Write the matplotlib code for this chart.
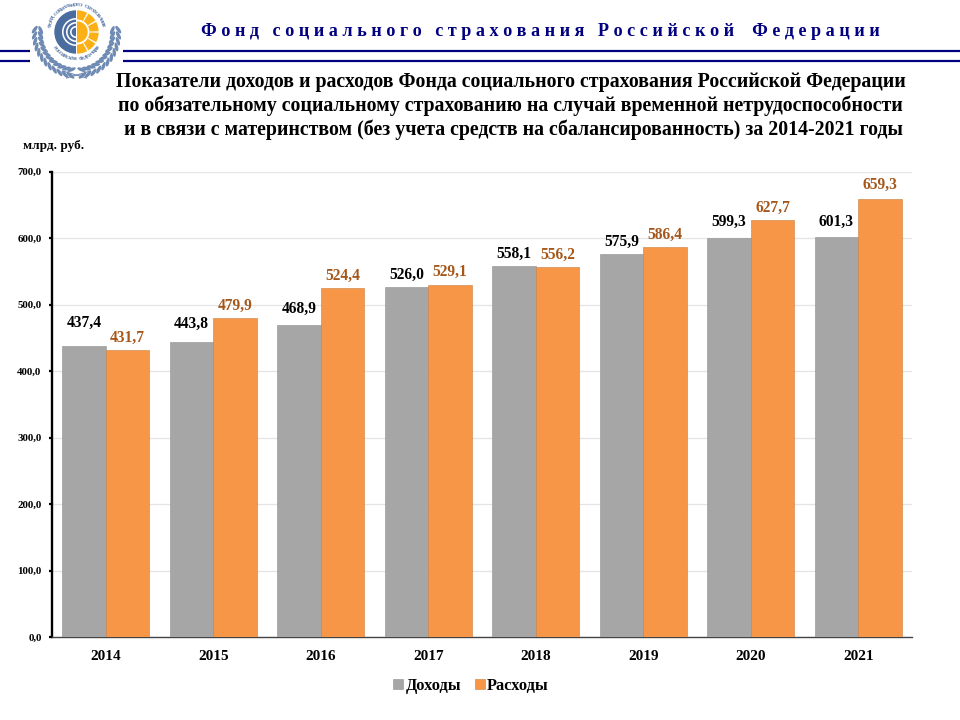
import numpy as np
import matplotlib
matplotlib.use("Agg")
import matplotlib.pyplot as plt
from matplotlib.patches import Wedge, Ellipse

plt.rcParams['font.family'] = ['Liberation Serif', 'DejaVu Serif']
plt.rcParams['font.weight'] = 'bold'

years = ['2014', '2015', '2016', '2017', '2018', '2019', '2020', '2021']
income = [437.4, 443.8, 468.9, 526.0, 558.1, 575.9, 599.3, 601.3]
expense = [431.7, 479.9, 524.4, 529.1, 556.2, 586.4, 627.7, 659.3]
yticks = [0, 100, 200, 300, 400, 500, 600, 700]
series_names = ['Доходы', 'Расходы']
title_lines = ['Показатели доходов и расходов Фонда социального страхования Российской Федерации',
               'по обязательному социальному страхованию на случай временной нетрудоспособности',
               'и в связи с материнством (без учета средств на сбалансированность) за 2014-2021 годы']
header = 'Ф о н д   с о ц и а л ь н о г о   с т р а х о в а н и я   Р о с с и й с к о й    Ф е д е р а ц и и'
# extra lift of the value labels above their bars, in points
income_lift = [8, 4, 3, 0, 0, 0, 3, 2]
expense_lift = [0, 0, 0, 1, 0, 0, 0, 1]

W, H = 960, 720
fig = plt.figure(figsize=(9.6, 7.2), dpi=100, facecolor='white')
bg = fig.add_axes([0, 0, 1, 1])
bg.set_xlim(0, W); bg.set_ylim(H, 0); bg.axis('off')

# header
NAVY = '#000080'
for y in (50.5, 60.5):
    bg.plot([0, 30], [y, y], color=NAVY, lw=1.6, solid_capstyle='butt')
    bg.plot([123, 960], [y, y], color=NAVY, lw=1.6, solid_capstyle='butt')
bg.text(540.5, 32, header, color=NAVY, fontsize=13.1, ha='center', va='center')

# logo
cx, cy, r = 76.5, 32, 21.7
BLUE, YEL, LEAF = '#4a6c9f', '#fbb116', '#6f8ab3'
bg.add_patch(Wedge((cx - .5, cy), r, 90, 270, fc=BLUE, ec='none'))
for rr in (14, 10, 6):
    bg.add_patch(Wedge((cx - .5, cy), rr, 90, 270, width=1.6, fc='white', ec='none'))
bg.add_patch(Wedge((cx + .5, cy), r, -90, 90, fc=YEL, ec='none'))
bg.add_patch(Wedge((cx + .5, cy), 12.5, -90, 90, width=1.8, fc='white', ec='none'))
for a in np.arange(-60, 90, 30):
    bg.add_patch(Wedge((cx + .5, cy), r + .2, a - 2, a + 2, width=r - 12.5, fc='white', ec='none'))
top = 'ФОНД СОЦИАЛЬНОГО СТРАХОВАНИЯ'
bot = 'РОССИЙСКАЯ ФЕДЕРАЦИЯ'
for i, ch in enumerate(top):
    a = np.deg2rad(165 - i * 150 / (len(top) - 1))
    bg.text(cx + 27 * np.cos(a), cy - 27 * np.sin(a), ch, fontsize=3.8, color='#4a6c9f',
            ha='center', va='center', rotation=np.rad2deg(a) - 90)
for i, ch in enumerate(bot):
    a = np.deg2rad(215 + i * 110 / (len(bot) - 1))
    bg.text(cx + 27 * np.cos(a), cy - 27 * np.sin(a), ch, fontsize=3.8, color='#4a6c9f',
            ha='center', va='center', rotation=np.rad2deg(a) + 90)
for s in (-1, 1):
    for a in np.arange(-6, 84, 8):
        t = np.deg2rad(a)
        for off, tilt in ((36, 30), (42, -30)):
            ex = cx + s * off * np.cos(t)
            ey = 34 + off * np.sin(t)
            bg.add_patch(Ellipse((ex, ey), 9, 3.4, angle=s * (a + 90 + tilt),
                                 fc=LEAF, ec='none'))
    bg.plot([cx + s * 14, cx - s * 10], [71, 78], color=LEAF, lw=0.8)

# title
for (y, line, tx) in zip((81.5, 105.5, 129.5), title_lines, (510.5, 510, 513)):
    bg.text(tx, y, line, fontsize=14.35, ha='center', va='center', color='black')
bg.text(53.5, 146, 'млрд. руб.', fontsize=9.5, ha='center', va='center', color='black')

# chart
L, R, T, B = 52, 912, 171.5, 637
ax = fig.add_axes([L / W, 1 - B / H, (R - L) / W, (B - T) / H])
ax.set_facecolor('none')
x = np.arange(len(years))
bw = 0.405
ax.bar(x - bw / 2, income, bw, color='#a6a6a6', edgecolor='#8f8f8f', lw=0.4, label=series_names[0], zorder=3)
ax.bar(x + bw / 2, expense, bw, color='#f79646', edgecolor='#c8803f', lw=0.4, label=series_names[1], zorder=3)
ax.set_xlim(-0.5, len(years) - 0.5)
ax.set_ylim(0, 700)
ax.set_yticks(yticks)
ax.set_yticklabels([f'{v:.1f}'.replace('.', ',') for v in yticks], fontsize=7.8)
ax.set_xticks(x)
ax.set_xticklabels(years, fontsize=11)
ax.tick_params(axis='x', length=0, pad=9)
ax.tick_params(axis='y', length=2.5, width=1.6, pad=5, color='black')
ax.grid(axis='y', color='#e4e4e4', lw=0.9, zorder=0)
ax.set_axisbelow(True)
for s in ('top', 'right'):
    ax.spines[s].set_visible(False)
ax.spines['left'].set_linewidth(1.7)
ax.spines['bottom'].set_linewidth(1.0)
ax.spines['bottom'].set_color('#444444')

for xi, v, lift in zip(x - bw / 2, income, income_lift):
    ax.annotate(f'{v:.1f}'.replace('.', ','), (xi, v), xytext=(0, 3 + lift), textcoords='offset points',
                ha='center', va='bottom', fontsize=11.2, color='black', zorder=5)
for xi, v, lift in zip(x + bw / 2, expense, expense_lift):
    ax.annotate(f'{v:.1f}'.replace('.', ','), (xi, v), xytext=(0, 3 + lift), textcoords='offset points',
                ha='center', va='bottom', fontsize=11.2, color='#a5571b', zorder=5)

leg = ax.legend(loc='center', bbox_to_anchor=(471 / W, 1 - 686 / H), bbox_transform=fig.transFigure,
                ncol=2, frameon=False, fontsize=11.8, handlelength=0.6, handleheight=0.6,
                handletextpad=0.15, columnspacing=0.85)

fig.savefig('out.png', dpi=100, facecolor='white')
